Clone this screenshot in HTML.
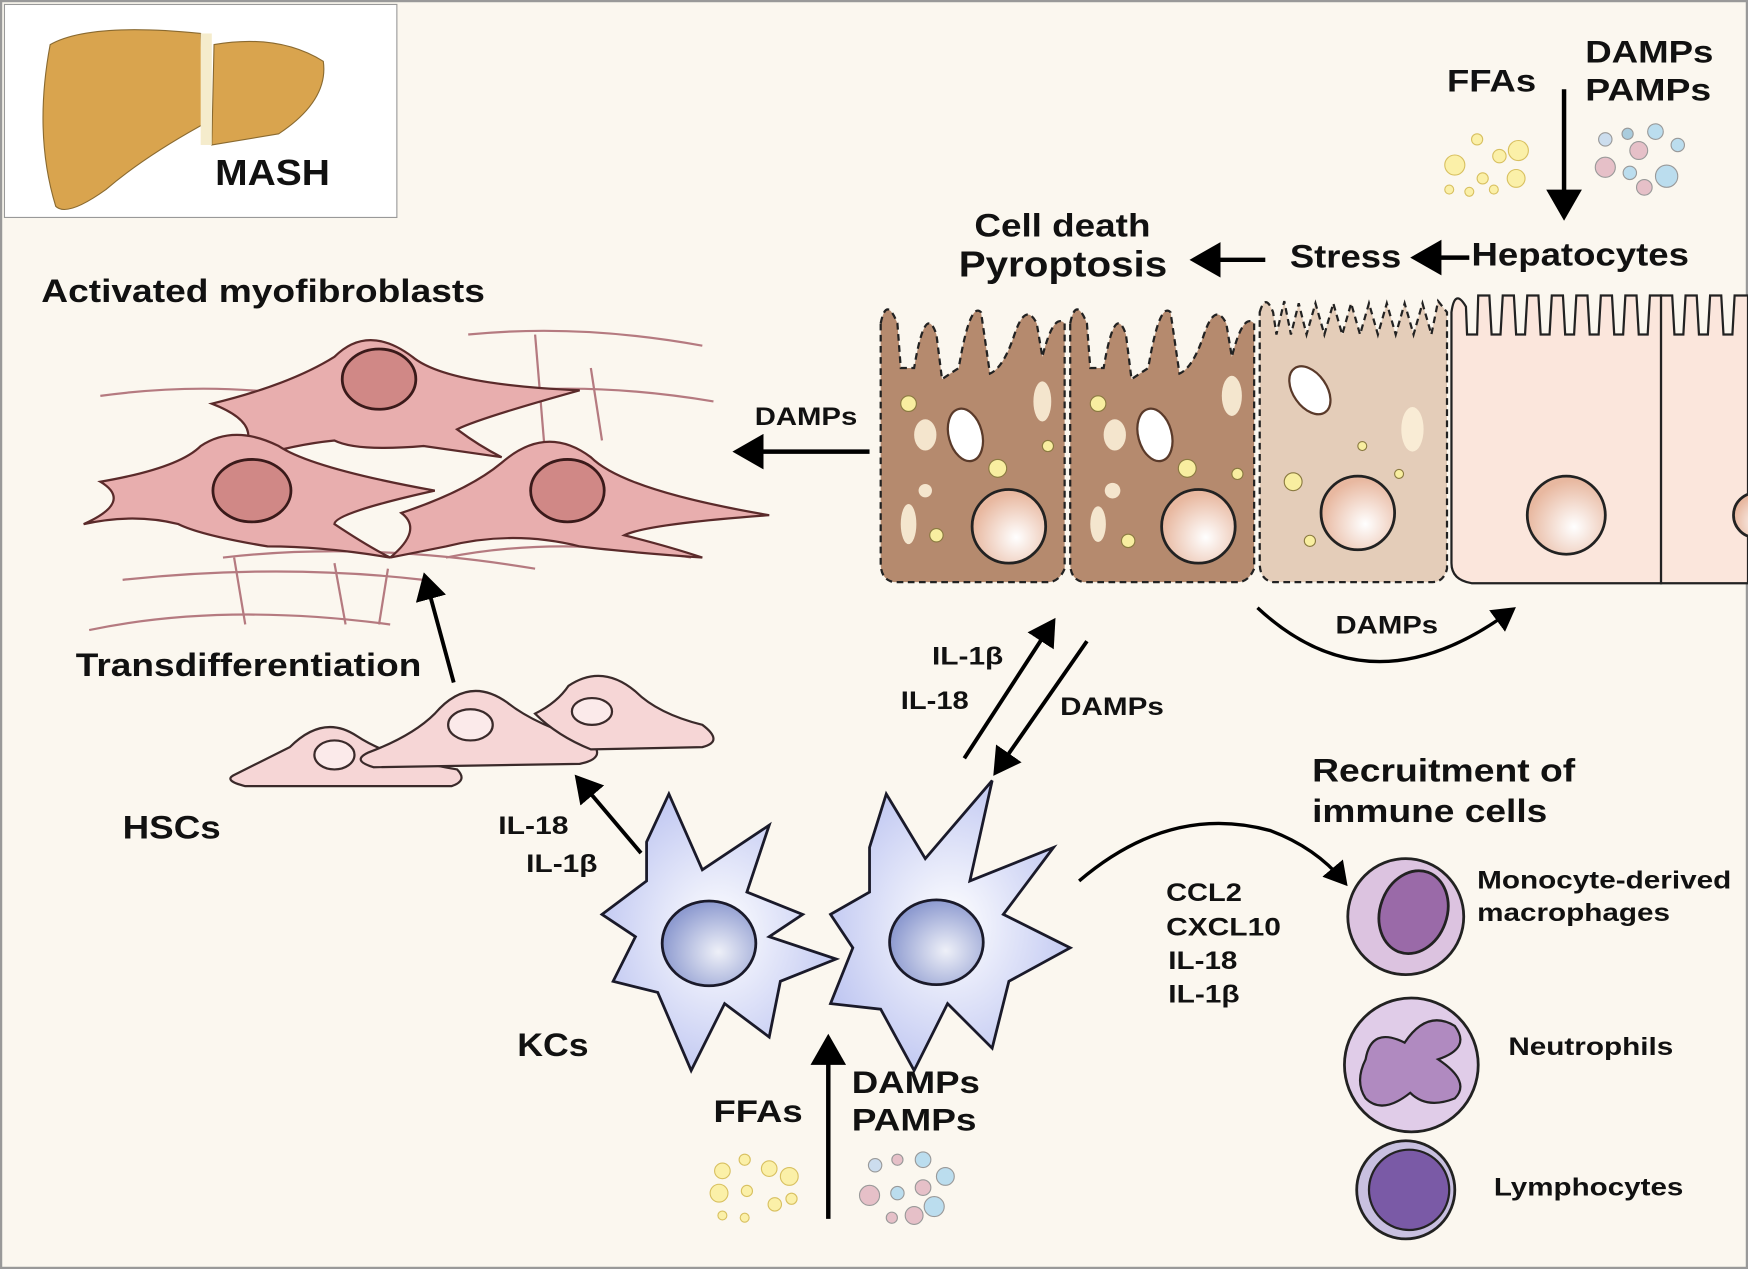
<!DOCTYPE html>
<html><head><meta charset="utf-8"><style>
html,body{margin:0;padding:0;background:#fbf7ef}
svg{display:block}
text{font-family:"Liberation Sans",sans-serif;font-weight:bold;fill:#111}
</style></head><body>
<svg width="1748" height="1269" viewBox="0 0 1568 1138" preserveAspectRatio="none" xmlns="http://www.w3.org/2000/svg">
<defs>
<marker id="ah" markerWidth="8" markerHeight="8" refX="5" refY="4" orient="auto" markerUnits="strokeWidth"><path d="M0,0 L7,4 L0,8 Z" fill="#000"/></marker>
<radialGradient id="nuc" cx="0.6" cy="0.65" r="0.6"><stop offset="0" stop-color="#fff"/><stop offset="1" stop-color="#e8b8a0"/></radialGradient>
<radialGradient id="kn" cx="0.6" cy="0.6" r="0.6"><stop offset="0" stop-color="#eef0f8"/><stop offset="1" stop-color="#8e9bd0"/></radialGradient>
<radialGradient id="kc" cx="0.5" cy="0.5" r="0.6"><stop offset="0" stop-color="#ffffff"/><stop offset="1" stop-color="#b9c1f0"/></radialGradient>
</defs>
<rect x="1" y="1" width="1566" height="1136" fill="#fbf7ef" stroke="#999" stroke-width="2"/>
<!-- liver box -->
<rect x="4" y="4" width="352" height="191" fill="#fff" stroke="#999"/>
<path d="M45,40 Q80,20 180,30 L185,110 Q130,140 95,170 Q60,195 50,185 Q30,120 45,40Z" fill="#d9a44e" stroke="#8a6a30"/>
<path d="M192,40 Q250,30 290,55 Q295,90 250,120 L190,130Z" fill="#d9a44e" stroke="#8a6a30"/>
<rect x="180" y="30" width="10" height="100" fill="#f5eccc"/>
<text x="193" y="166" font-size="32" textLength="103" lengthAdjust="spacingAndGlyphs">MASH</text>
<!-- top right labels -->
<text x="1298" y="82" font-size="28" textLength="80" lengthAdjust="spacingAndGlyphs">FFAs</text>
<text x="1422" y="56" font-size="28" textLength="115" lengthAdjust="spacingAndGlyphs">DAMPs</text>
<text x="1422" y="90" font-size="28" textLength="113" lengthAdjust="spacingAndGlyphs">PAMPs</text>
<line x1="1403" y1="80" x2="1403" y2="190" stroke="#000" stroke-width="4" marker-end="url(#ah)"/>
<g fill="#fbf0a8" stroke="#d8c060"><circle cx="1305" cy="148" r="9"/><circle cx="1325" cy="125" r="5"/><circle cx="1345" cy="140" r="6"/><circle cx="1362" cy="135" r="9"/><circle cx="1330" cy="160" r="5"/><circle cx="1300" cy="170" r="4"/><circle cx="1318" cy="172" r="4"/><circle cx="1340" cy="170" r="4"/><circle cx="1360" cy="160" r="8"/></g>
<g stroke="#999"><circle cx="1440" cy="125" r="6" fill="#cde"/><circle cx="1460" cy="120" r="5" fill="#acd"/><circle cx="1485" cy="118" r="7" fill="#bde"/><circle cx="1505" cy="130" r="6" fill="#bde"/><circle cx="1470" cy="135" r="8" fill="#e6c0c8"/><circle cx="1440" cy="150" r="9" fill="#e6c0c8"/><circle cx="1462" cy="155" r="6" fill="#bde"/><circle cx="1495" cy="158" r="10" fill="#bde"/><circle cx="1475" cy="168" r="7" fill="#e6c0c8"/></g>
<text x="874" y="212" font-size="29" textLength="158" lengthAdjust="spacingAndGlyphs">Cell death</text>
<text x="860" y="248" font-size="32" textLength="187" lengthAdjust="spacingAndGlyphs">Pyroptosis</text>
<line x1="1135" y1="233" x2="1075" y2="233" stroke="#000" stroke-width="4" marker-end="url(#ah)"/>
<text x="1157" y="240" font-size="29" textLength="100" lengthAdjust="spacingAndGlyphs">Stress</text>
<line x1="1318" y1="231" x2="1273" y2="231" stroke="#000" stroke-width="4" marker-end="url(#ah)"/>
<text x="1320" y="238" font-size="29" textLength="195" lengthAdjust="spacingAndGlyphs">Hepatocytes</text>
<!-- hepatocytes -->
<path d="M790,290 Q795,265 805,290 L808,330 L820,330 Q830,270 840,300 L845,340 L860,330 Q870,270 880,280 L888,335 Q900,330 910,300 Q920,270 930,290 L935,320 Q945,280 955,290 L955,510 Q950,522 940,522 L802,522 Q790,520 790,505Z" fill="#b58a6e" stroke="#222" stroke-width="2" stroke-dasharray="6,4"/>
<path d="M960,290 Q965,265 975,290 L978,330 L990,330 Q1000,270 1010,300 L1015,340 L1030,330 Q1040,270 1050,280 L1058,335 Q1070,330 1080,300 Q1090,270 1100,290 L1105,320 Q1115,280 1125,290 L1125,510 Q1120,522 1110,522 L972,522 Q960,520 960,505Z" fill="#b58a6e" stroke="#222" stroke-width="2" stroke-dasharray="6,4"/>
<path d="M1130,280 Q1135,262 1142,280 L1145,300 L1152,270 L1158,300 L1165,272 L1172,300 L1180,272 L1188,300 L1196,272 L1204,300 L1212,272 L1220,300 L1228,272 L1236,300 L1244,272 L1252,300 L1260,272 L1268,300 L1276,272 L1284,300 L1290,270 L1298,280 L1298,510 Q1295,522 1285,522 L1142,522 Q1130,520 1130,505Z" fill="#e4cdb9" stroke="#222" stroke-width="2" stroke-dasharray="6,4"/>
<path d="M1302,280 Q1305,258 1315,275 L1316,300 L1325,300 L1326,265 L1336,265 L1338,300 L1346,300 L1348,265 L1358,265 L1360,300 L1368,300 L1370,265 L1380,265 L1382,300 L1390,300 L1392,265 L1402,265 L1404,300 L1412,300 L1414,265 L1424,265 L1426,300 L1434,300 L1436,265 L1446,265 L1448,300 L1456,300 L1458,265 L1468,265 L1470,300 L1478,300 L1480,265 L1490,265 L1490,523 L1320,523 Q1302,520 1302,505Z" fill="#fbe6dc" stroke="#222" stroke-width="2"/>
<path d="M1490,265 L1500,265 L1502,300 L1510,300 L1512,265 L1522,265 L1524,300 L1532,300 L1534,265 L1544,265 L1546,300 L1554,300 L1556,265 L1568,265 L1568,523 L1490,523Z" fill="#fbe6dc" stroke="#222" stroke-width="2"/>
<g stroke="#222" stroke-width="2.5"><circle cx="905" cy="472" r="33" fill="url(#nuc)"/><circle cx="1075" cy="472" r="33" fill="url(#nuc)"/><circle cx="1218" cy="460" r="33" fill="url(#nuc)"/><circle cx="1405" cy="462" r="35" fill="url(#nuc)"/><circle cx="1575" cy="462" r="20" fill="url(#nuc)"/></g>
<g fill="#fbefd8" opacity="0.9"><ellipse cx="935" cy="360" rx="8" ry="18"/><ellipse cx="830" cy="390" rx="10" ry="14"/><circle cx="830" cy="440" r="6"/><ellipse cx="815" cy="470" rx="7" ry="18"/><ellipse cx="1105" cy="355" rx="9" ry="18"/><ellipse cx="1000" cy="390" rx="10" ry="14"/><circle cx="998" cy="440" r="7"/><ellipse cx="985" cy="470" rx="7" ry="16"/><ellipse cx="1267" cy="385" rx="10" ry="20"/></g>
<g fill="#f8eea0" stroke="#8a7a40"><circle cx="815" cy="362" r="7"/><circle cx="895" cy="420" r="8"/><circle cx="840" cy="480" r="6"/><circle cx="940" cy="400" r="5"/><circle cx="985" cy="362" r="7"/><circle cx="1065" cy="420" r="8"/><circle cx="1012" cy="485" r="6"/><circle cx="1110" cy="425" r="5"/><circle cx="1160" cy="432" r="8"/><circle cx="1175" cy="485" r="5"/><circle cx="1222" cy="400" r="4"/><circle cx="1255" cy="425" r="4"/></g>
<g fill="#fff" stroke="#5a3a2a" stroke-width="2"><ellipse cx="866" cy="390" rx="15" ry="24" transform="rotate(-15 866 390)"/><ellipse cx="1036" cy="390" rx="15" ry="24" transform="rotate(-15 1036 390)"/><ellipse cx="1175" cy="350" rx="15" ry="24" transform="rotate(-35 1175 350)"/></g>
<path d="M1128,545 Q1230,640 1355,548" fill="none" stroke="#000" stroke-width="3" marker-end="url(#ah)"/>
<text x="1198" y="568" font-size="22" textLength="92" lengthAdjust="spacingAndGlyphs">DAMPs</text>
<!-- DAMPs left arrow -->
<line x1="780" y1="405" x2="665" y2="405" stroke="#000" stroke-width="4" marker-end="url(#ah)"/>
<text x="677" y="381" font-size="22" textLength="92" lengthAdjust="spacingAndGlyphs">DAMPs</text>
<!-- fibers -->
<g stroke="#b57a80" stroke-width="2" fill="none">
<path d="M420,300 Q520,290 630,310"/><path d="M90,355 Q200,340 300,360"/><path d="M420,355 Q520,340 640,360"/><path d="M110,520 Q250,505 380,520"/><path d="M80,565 Q200,540 350,560"/><path d="M200,500 Q330,485 480,510"/><path d="M480,300 L490,420"/><path d="M530,330 L540,395"/><path d="M210,500 L220,560"/><path d="M300,505 L310,560"/><path d="M340,560 L348,510"/><path d="M100,460 Q200,470 300,460"/><path d="M400,500 Q500,480 620,500"/>
</g>
<!-- myofibroblasts -->
<g fill="#e8aeae" stroke="#5a2a2a" stroke-width="2">
<path d="M190,362 Q260,345 300,320 Q330,290 370,320 Q400,345 520,350 Q430,375 410,385 Q430,400 450,410 L380,400 Q320,405 300,395 Q250,400 200,420 Q250,385 190,362Z"/>
<path d="M90,432 Q160,420 180,400 Q210,380 250,400 Q280,420 390,440 Q300,460 300,470 Q330,490 350,500 Q290,490 240,490 Q180,480 160,470 Q120,460 75,470 Q120,450 90,432Z"/>
<path d="M360,460 Q420,440 450,415 Q490,380 530,410 Q560,440 690,462 Q580,470 560,480 Q600,490 630,500 Q560,495 520,490 Q460,475 400,490 L350,500 Q380,475 360,460Z"/>
</g>
<g fill="#d08886" stroke="#3a1a1a" stroke-width="2.5"><ellipse cx="340" cy="340" rx="33" ry="27"/><ellipse cx="226" cy="440" rx="35" ry="28"/><ellipse cx="509" cy="440" rx="33" ry="28"/></g>
<text x="37" y="271" font-size="29" textLength="398" lengthAdjust="spacingAndGlyphs">Activated myofibroblasts</text>
<text x="68" y="606" font-size="29" textLength="310" lengthAdjust="spacingAndGlyphs">Transdifferentiation</text>
<line x1="407" y1="612" x2="382" y2="520" stroke="#000" stroke-width="3.5" marker-end="url(#ah)"/>
<!-- HSCs -->
<g fill="#f6d6d6" stroke="#3a2a2a" stroke-width="2">
<path d="M210,695 Q240,680 260,670 Q290,640 320,660 Q350,680 410,690 Q420,700 405,705 L220,705 Q200,700 210,695Z"/>
<path d="M330,675 Q370,660 390,640 Q420,605 455,630 Q480,650 530,665 Q545,680 520,685 L335,688 Q315,682 330,675Z"/>
<path d="M480,640 Q500,630 510,615 Q540,595 570,620 Q590,640 630,650 Q650,665 630,670 L530,672 Q500,660 480,640Z"/>
</g>
<g fill="#fbeaea" stroke="#3a2a2a" stroke-width="2"><ellipse cx="300" cy="677" rx="18" ry="13"/><ellipse cx="422" cy="650" rx="20" ry="14"/><ellipse cx="531" cy="638" rx="18" ry="12"/></g>
<text x="110" y="752" font-size="29" textLength="88" lengthAdjust="spacingAndGlyphs">HSCs</text>
<line x1="575" y1="765" x2="520" y2="700" stroke="#000" stroke-width="3.5" marker-end="url(#ah)"/>
<text x="447" y="748" font-size="22" textLength="63" lengthAdjust="spacingAndGlyphs">IL-18</text>
<text x="472" y="782" font-size="22" textLength="64" lengthAdjust="spacingAndGlyphs">IL-1β</text>
<!-- IL arrows -->
<line x1="865" y1="680" x2="943" y2="560" stroke="#000" stroke-width="3.5" marker-end="url(#ah)"/>
<line x1="975" y1="575" x2="895" y2="690" stroke="#000" stroke-width="3.5" marker-end="url(#ah)"/>
<text x="836" y="596" font-size="22" textLength="64" lengthAdjust="spacingAndGlyphs">IL-1β</text>
<text x="808" y="636" font-size="22" textLength="61" lengthAdjust="spacingAndGlyphs">IL-18</text>
<text x="951" y="641" font-size="22" textLength="93" lengthAdjust="spacingAndGlyphs">DAMPs</text>
<!-- KCs -->
<g fill="url(#kc)" stroke="#1a1a2a" stroke-width="2.5">
<path d="M600,712 L630,780 L690,740 L670,800 L720,820 L690,840 L750,860 L700,880 L690,930 L650,900 L620,960 L590,890 L550,880 L570,840 L540,820 L580,790 L580,755 Z"/>
<path d="M795,712 L830,770 L890,700 L870,790 L945,760 L900,820 L960,850 L905,880 L890,940 L850,900 L820,960 L790,905 L745,900 L765,850 L745,820 L780,800 L780,760 Z"/>
</g>
<g fill="url(#kn)" stroke="#1a1a2a" stroke-width="2.5"><ellipse cx="636" cy="846" rx="42" ry="38"/><ellipse cx="840" cy="845" rx="42" ry="38"/></g>
<text x="464" y="947" font-size="29" textLength="64" lengthAdjust="spacingAndGlyphs">KCs</text>
<line x1="743" y1="1093" x2="743" y2="935" stroke="#000" stroke-width="4" marker-end="url(#ah)"/>
<text x="640" y="1006" font-size="28" textLength="80" lengthAdjust="spacingAndGlyphs">FFAs</text>
<text x="764" y="980" font-size="28" textLength="115" lengthAdjust="spacingAndGlyphs">DAMPs</text>
<text x="764" y="1014" font-size="28" textLength="112" lengthAdjust="spacingAndGlyphs">PAMPs</text>
<g fill="#fbf0a8" stroke="#d8c060"><circle cx="648" cy="1050" r="7"/><circle cx="668" cy="1040" r="5"/><circle cx="690" cy="1048" r="7"/><circle cx="708" cy="1055" r="8"/><circle cx="645" cy="1070" r="8"/><circle cx="670" cy="1068" r="5"/><circle cx="695" cy="1080" r="6"/><circle cx="648" cy="1090" r="4"/><circle cx="668" cy="1092" r="4"/><circle cx="710" cy="1075" r="5"/></g>
<g stroke="#999"><circle cx="785" cy="1045" r="6" fill="#cde"/><circle cx="805" cy="1040" r="5" fill="#e6c0c8"/><circle cx="828" cy="1040" r="7" fill="#bde"/><circle cx="848" cy="1055" r="8" fill="#bde"/><circle cx="780" cy="1072" r="9" fill="#e6c0c8"/><circle cx="805" cy="1070" r="6" fill="#bde"/><circle cx="828" cy="1065" r="7" fill="#e6c0c8"/><circle cx="800" cy="1092" r="5" fill="#e6c0c8"/><circle cx="820" cy="1090" r="8" fill="#e6c0c8"/><circle cx="838" cy="1082" r="9" fill="#bde"/></g>
<!-- recruitment -->
<path d="M968,790 Q1050,720 1140,745 Q1180,760 1205,790" fill="none" stroke="#000" stroke-width="3" marker-end="url(#ah)"/>
<text x="1177" y="701" font-size="29" textLength="236" lengthAdjust="spacingAndGlyphs">Recruitment of</text>
<text x="1177" y="737" font-size="29" textLength="211" lengthAdjust="spacingAndGlyphs">immune cells</text>
<text x="1046" y="808" font-size="22" textLength="68" lengthAdjust="spacingAndGlyphs">CCL2</text>
<text x="1046" y="839" font-size="22" textLength="103" lengthAdjust="spacingAndGlyphs">CXCL10</text>
<text x="1048" y="869" font-size="22" textLength="62" lengthAdjust="spacingAndGlyphs">IL-18</text>
<text x="1048" y="899" font-size="22" textLength="64" lengthAdjust="spacingAndGlyphs">IL-1β</text>
<circle cx="1261" cy="822" r="52" fill="#dcc3e0" stroke="#222" stroke-width="2.5"/>
<ellipse cx="1268" cy="818" rx="30" ry="38" transform="rotate(20 1268 818)" fill="#9a6aa8" stroke="#222" stroke-width="2.5"/>
<circle cx="1266" cy="955" r="60" fill="#e0cce8" stroke="#222" stroke-width="2.5"/>
<path d="M1225,950 Q1230,920 1260,935 Q1280,905 1305,920 Q1320,940 1290,950 Q1320,970 1305,985 Q1280,995 1265,980 Q1240,1000 1225,985 Q1215,970 1225,950Z" fill="#b08ac0" stroke="#222" stroke-width="2"/>
<circle cx="1261" cy="1067" r="44" fill="#c8c0e0" stroke="#222" stroke-width="2.5"/>
<circle cx="1264" cy="1067" r="36" fill="#7a5aa6" stroke="#222" stroke-width="2"/>
<text x="1325" y="797" font-size="22" textLength="228" lengthAdjust="spacingAndGlyphs">Monocyte-derived</text>
<text x="1325" y="826" font-size="22" textLength="173" lengthAdjust="spacingAndGlyphs">macrophages</text>
<text x="1353" y="946" font-size="22" textLength="148" lengthAdjust="spacingAndGlyphs">Neutrophils</text>
<text x="1340" y="1072" font-size="22" textLength="170" lengthAdjust="spacingAndGlyphs">Lymphocytes</text>
</svg>
</body></html>
